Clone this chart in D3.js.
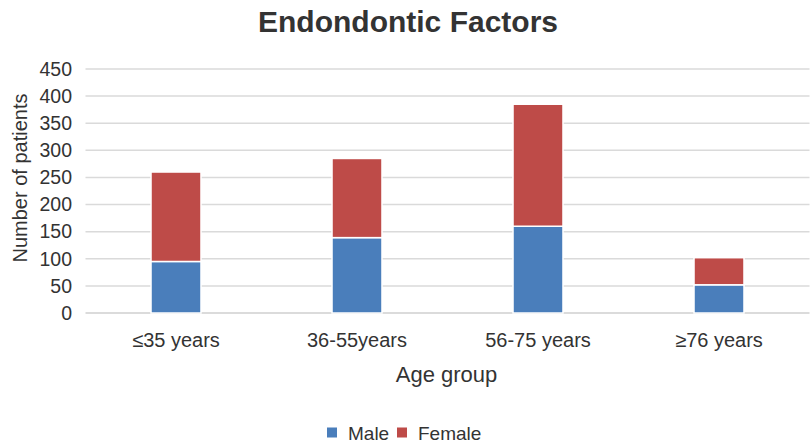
<!DOCTYPE html>
<html><head><meta charset="utf-8">
<script src="https://cdn.jsdelivr.net/npm/d3@7"></script>
<style>body{margin:0;background:#fff;} text{font-family:"Liberation Sans",Arial,sans-serif;}</style>
</head><body>
<svg id="c" width="810" height="448"></svg>
<script>
const categories = ["≤35 years", "36-55years", "56-75 years", "≥76 years"];
const male = [95, 139, 160, 52];
const female = [165, 146, 225, 50];
const yTicks = [0, 50, 100, 150, 200, 250, 300, 350, 400, 450];
const seriesNames = ["Male", "Female"];
const colors = ["#4a7ebb", "#be4b48"];

const svg = d3.select("#c");
const pLeft = 85.5, pRight = 809.5, pTop = 69, pBottom = 313;
const x = d3.scaleBand().domain(categories).range([pLeft, pRight]).paddingInner(0.724).paddingOuter(0.362);
const y = d3.scaleLinear().domain([0, 450]).range([pBottom, pTop]);

// gridlines
svg.append("g").selectAll("line").data(yTicks).join("line")
  .attr("x1", pLeft).attr("x2", pRight)
  .attr("y1", d => y(d)).attr("y2", d => y(d))
  .attr("stroke", d => d === 0 ? "#cfcfcf" : "#dadada").attr("stroke-width", 1.5);

// y tick labels
svg.append("g").selectAll("text").data(yTicks).join("text")
  .attr("x", 72).attr("y", d => y(d)).attr("dy", "0.35em")
  .attr("text-anchor", "end").attr("font-size", 19.5).attr("fill", "#333")
  .text(d => d);

const data = categories.map((c, i) => ({cat: c, Male: male[i], Female: female[i]}));
const stack = d3.stack().keys(seriesNames)(data);
svg.append("g").selectAll("g").data(stack).join("g")
  .attr("fill", (d, i) => colors[i])
  .selectAll("rect").data(d => d).join("rect")
  .attr("x", d => x(d.data.cat))
  .attr("width", x.bandwidth())
  .attr("y", d => y(d[1]))
  .attr("height", d => y(d[0]) - y(d[1]))
  .attr("stroke", "#fff").attr("stroke-width", 1.5);

// x labels
svg.append("g").selectAll("text").data(categories).join("text")
  .attr("x", d => x(d) + x.bandwidth() / 2).attr("y", 347)
  .attr("text-anchor", "middle").attr("font-size", 20).attr("fill", "#333")
  .text(d => d);

// title
svg.append("text").attr("x", 408).attr("y", 32).attr("text-anchor", "middle")
  .attr("font-size", 30).attr("font-weight", "bold").attr("fill", "#333")
  .text("Endondontic Factors");

// axis titles
svg.append("text").attr("x", 446.5).attr("y", 382).attr("text-anchor", "middle")
  .attr("font-size", 22).attr("fill", "#333").text("Age group");
svg.append("text").attr("transform", "translate(27,178) rotate(-90)").attr("text-anchor", "middle")
  .attr("font-size", 20).attr("fill", "#333").text("Number of patients");

// legend
const leg = svg.append("g");
const legX = [327, 397];
seriesNames.forEach((s, i) => {
  leg.append("rect").attr("x", legX[i]).attr("y", 427.5).attr("width", 10).attr("height", 10).attr("fill", colors[i]);
  leg.append("text").attr("x", legX[i] + 21).attr("y", 440).attr("font-size", 19).attr("fill", "#333").text(s);
});
</script>
</body></html>
